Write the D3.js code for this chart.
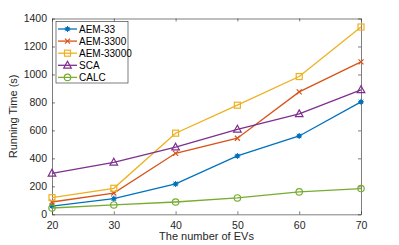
<!DOCTYPE html>
<html>
<head>
<meta charset="utf-8">
<script src="https://cdn.jsdelivr.net/npm/d3@7"></script>
<style>
  body { margin: 0; background: #fff; }
  text { font-family: "Liberation Sans", Arial, sans-serif; }
</style>
</head>
<body>
<svg id="chart" width="399" height="245"></svg>
<script>
// data
var evs = [20, 30, 40, 50, 60, 70];
var aem33 = [59, 112, 217, 417, 560, 804];
var aem3300 = [88, 152, 436, 544, 875, 1090];
var aem33000 = [119, 186, 580, 780, 985, 1339];
var sca = [293, 372, 480, 608, 718, 890];
var calc = [45, 67, 88, 117, 160, 184];
var yTicks = [0, 200, 400, 600, 800, 1000, 1200, 1400];
var xTicks = [20, 30, 40, 50, 60, 70];

var series = [
  { name: "AEM-33", values: aem33, color: "#0072BD", marker: "star" },
  { name: "AEM-3300", values: aem3300, color: "#D95319", marker: "x" },
  { name: "AEM-33000", values: aem33000, color: "#EDB120", marker: "square" },
  { name: "SCA", values: sca, color: "#7E2F8E", marker: "triangle" },
  { name: "CALC", values: calc, color: "#77AC30", marker: "circle" }
];

var svg = d3.select("#chart");
var plotL = 52, plotR = 361, plotT = 18.5, plotB = 214.3;

var x = d3.scaleLinear().domain([20, 70]).range([plotL, plotR]);
var y = d3.scaleLinear().domain([0, 1400]).range([plotB, plotT]);

var axisColor = "#262626";

// axes (box with inward ticks)
var gx = svg.append("g").attr("transform", "translate(0," + plotB + ")")
  .call(d3.axisBottom(x).tickValues(xTicks).tickSizeInner(-3).tickSizeOuter(0).tickPadding(7));
var gxTop = svg.append("g").attr("transform", "translate(0," + plotT + ")")
  .call(d3.axisTop(x).tickValues(xTicks).tickSizeInner(-3).tickSizeOuter(0).tickFormat(""));
var gy = svg.append("g").attr("transform", "translate(" + plotL + ",0)")
  .call(d3.axisLeft(y).tickValues(yTicks).tickFormat(d3.format("d")).tickSizeInner(-3).tickSizeOuter(0).tickPadding(5));
var gyRight = svg.append("g").attr("transform", "translate(" + plotR + ",0)")
  .call(d3.axisRight(y).tickValues(yTicks).tickSizeInner(-3).tickSizeOuter(0).tickFormat(""));

[gx, gxTop, gy, gyRight].forEach(function(g) {
  g.select(".domain").attr("stroke", axisColor).attr("stroke-width", 0.6);
  g.selectAll(".tick line").attr("stroke", axisColor).attr("stroke-width", 0.6);
  g.selectAll(".tick text").attr("fill", axisColor).style("font-size", "10.5px");
});

// axis labels
svg.append("text")
  .attr("x", (plotL + plotR) / 2).attr("y", 240)
  .attr("text-anchor", "middle")
  .attr("fill", axisColor)
  .style("font-size", "11px")
  .text("The number of EVs");

svg.append("text")
  .attr("transform", "translate(17," + (plotT + plotB) / 2 + ") rotate(-90)")
  .attr("text-anchor", "middle")
  .attr("fill", axisColor)
  .style("font-size", "11px")
  .text("Running Time (s)");

function drawMarker(g, type, color, cx, cy) {
  if (type === "star") {
    g.append("circle").attr("cx", cx).attr("cy", cy).attr("r", 2.2).attr("fill", color);
    var p = "M" + (cx - 3) + "," + cy + "h6M" + cx + "," + (cy - 3) + "v6" +
      "M" + (cx - 2.2) + "," + (cy - 2.2) + "l4.4,4.4M" + (cx - 2.2) + "," + (cy + 2.2) + "l4.4,-4.4";
    g.append("path").attr("d", p).attr("stroke", color).attr("stroke-width", 1);
  } else if (type === "x") {
    var s = 2.5;
    g.append("path")
      .attr("d", "M" + (cx - s) + "," + (cy - s) + "l" + 2 * s + "," + 2 * s + "M" + (cx - s) + "," + (cy + s) + "l" + 2 * s + "," + -2 * s)
      .attr("stroke", color).attr("stroke-width", 1.2);
  } else if (type === "square") {
    g.append("rect").attr("x", cx - 3).attr("y", cy - 3).attr("width", 6).attr("height", 6)
      .attr("fill", "none").attr("stroke", color).attr("stroke-width", 1.2);
  } else if (type === "triangle") {
    g.append("path")
      .attr("d", "M" + cx + "," + (cy - 4) + "L" + (cx + 3.8) + "," + (cy + 2.8) + "L" + (cx - 3.8) + "," + (cy + 2.8) + "Z")
      .attr("fill", "none").attr("stroke", color).attr("stroke-width", 1.2);
  } else if (type === "circle") {
    g.append("circle").attr("cx", cx).attr("cy", cy).attr("r", 3.2)
      .attr("fill", "none").attr("stroke", color).attr("stroke-width", 1.2);
  }
}

var line = d3.line()
  .x(function(d, i) { return x(evs[i]); })
  .y(function(d) { return y(d); });

series.forEach(function(s) {
  var g = svg.append("g");
  g.append("path").datum(s.values)
    .attr("d", line)
    .attr("fill", "none")
    .attr("stroke", s.color)
    .attr("stroke-width", 1.3);
  s.values.forEach(function(v, i) {
    drawMarker(g, s.marker, s.color, x(evs[i]), y(v));
  });
});

// legend
var lg = svg.append("g");
lg.append("rect").attr("x", 56).attr("y", 21.5).attr("width", 72).attr("height", 61.5)
  .attr("fill", "#fff").attr("stroke", axisColor).attr("stroke-width", 0.6);
series.forEach(function(s, i) {
  var ly = 29 + i * 12.1;
  lg.append("line").attr("x1", 58).attr("x2", 77).attr("y1", ly).attr("y2", ly)
    .attr("stroke", s.color).attr("stroke-width", 1.3);
  drawMarker(lg, s.marker, s.color, 67.5, ly);
  lg.append("text").attr("x", 79).attr("y", ly + 3.6)
    .attr("fill", "#000").style("font-size", "10px")
    .text(s.name);
});
</script>
</body>
</html>
